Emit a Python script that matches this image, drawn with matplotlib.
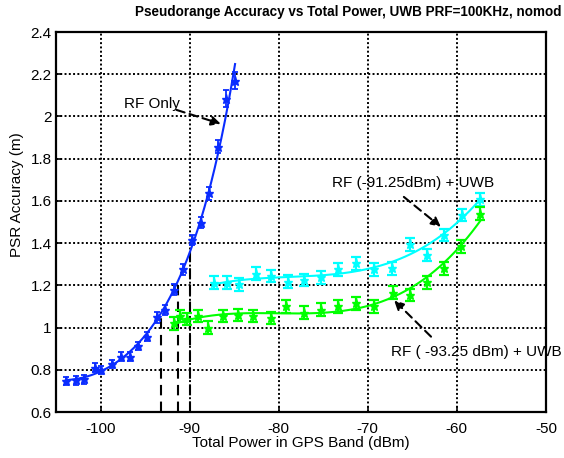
import numpy as np
import matplotlib
matplotlib.use("Agg")
import matplotlib.pyplot as plt

plt.rcParams['font.family'] = ['Liberation Sans', 'DejaVu Sans']

# ---- data ----
rf_x = [-103.9, -102.8, -101.9, -100.6, -100.0, -98.7, -97.75, -96.7, -95.8, -94.75,
        -93.7, -92.8, -91.8, -90.8, -89.7, -88.7, -87.8, -86.8, -85.9, -84.9]
rf_y = [0.747, 0.75, 0.755, 0.81, 0.80, 0.827, 0.862, 0.862, 0.914, 0.957,
        1.049, 1.083, 1.18, 1.276, 1.415, 1.497, 1.636, 1.857, 2.085, 2.17]
rf_err = [0.02, 0.02, 0.02, 0.02, 0.02, 0.02, 0.02, 0.02, 0.02, 0.02,
          0.025, 0.025, 0.025, 0.025, 0.025, 0.025, 0.03, 0.03, 0.04, 0.04]

cy_x = [-87.3, -85.8, -84.5, -82.6, -80.9, -79.0, -77.2, -75.2, -73.3, -71.35,
        -69.3, -67.3, -65.3, -63.4, -61.4, -59.4, -57.4]
cy_y = [1.213, 1.213, 1.205, 1.255, 1.245, 1.217, 1.225, 1.238, 1.276, 1.304,
        1.276, 1.281, 1.395, 1.344, 1.439, 1.534, 1.608]
cy_err = 0.03

gr_x = [-91.8, -91.1, -90.3, -89.1, -87.9, -86.3, -84.6, -82.9, -80.9, -79.2,
        -77.2, -75.3, -73.3, -71.35, -69.3, -67.2, -65.3, -63.3, -61.5, -59.5, -57.4]
gr_y = [1.02, 1.055, 1.04, 1.055, 1.0, 1.055, 1.06, 1.055, 1.045, 1.10,
        1.07, 1.085, 1.10, 1.115, 1.10, 1.165, 1.155, 1.215, 1.28, 1.385, 1.54]
gr_err = 0.03

ref_x = [-93.25, -91.25, -90.0]
ref_top = [1.05, 1.23, 1.40]

xticks = [-100, -90, -80, -70, -60, -50]
yticks = [0.6, 0.8, 1.0, 1.2, 1.4, 1.6, 1.8, 2.0, 2.2, 2.4]

FS = 11

# ---- figure ----
fig = plt.figure(figsize=(5.64, 4.58), dpi=100)
ax = fig.add_axes([0.0993, 0.1004, 0.8687, 0.8296])

def fit_line(x, y, deg):
    x = np.asarray(x); y = np.asarray(y)
    c = np.polyfit(x, y, deg)
    xs = np.linspace(x.min(), x.max(), 200)
    return xs, np.polyval(c, xs)

BLUE = '#0a2cff'
CYAN = '#00ffff'
GREEN = '#00ff00'

# fitted lines
xs, ys = fit_line(rf_x, np.log(rf_y), 3)
ax.plot(xs, np.exp(ys), color=BLUE, lw=1.5, zorder=4)
xs, ys = fit_line(cy_x, cy_y, 3)
ax.plot(xs, ys, color=CYAN, lw=1.5, zorder=4)
xs, ys = fit_line(gr_x, gr_y, 3)
ax.plot(xs, ys, color=GREEN, lw=1.5, zorder=4)

ax.errorbar(rf_x, rf_y, yerr=rf_err, fmt='*', color=BLUE, ms=6.5, capsize=2.5,
            elinewidth=1.3, capthick=1.3, zorder=5)
ax.errorbar(cy_x, cy_y, yerr=cy_err, fmt='*', color=CYAN, ms=6.5, capsize=3.5,
            elinewidth=1.6, capthick=1.6, zorder=5)
ax.errorbar(gr_x, gr_y, yerr=gr_err, fmt='*', color=GREEN, ms=6.5, capsize=3.5,
            elinewidth=1.6, capthick=1.6, zorder=5)

# dashed reference lines
for xv, top in zip(ref_x, ref_top):
    ax.plot([xv, xv], [0.6, top], color='black', lw=1.5, ls=(0, (5, 3)), zorder=3)

ax.set_xlim(-105, -50)
ax.set_ylim(0.6, 2.4)
ax.set_xticks(xticks)
ax.set_yticks(yticks)
ax.set_xticklabels([f"{v:g}" for v in xticks], fontsize=FS)
ax.set_yticklabels([f"{v:g}" for v in yticks], fontsize=FS)
ax.tick_params(direction='in', length=4, width=1.2, pad=3)
ax.tick_params(axis='x', pad=7)
ax.grid(True, color='black', ls=(0, (1, 1.2)), lw=1.4)
for s in ax.spines.values():
    s.set_linewidth(1.6)

ax.set_xlabel("Total Power in GPS Band (dBm)", fontsize=FS)
ax.xaxis.set_label_coords(0.5, -(436 - 412) / 380)
ax.set_ylabel("PSR Accuracy (m)", fontsize=FS)
ax.yaxis.set_label_coords(-(56 - 24) / 490, (412 - 195) / 380)

fig.text(348/564, 1 - 12/458, "Pseudorange Accuracy vs Total Power, UWB PRF=100KHz, nomod",
         ha='center', va='center', fontsize=9.75, fontweight='bold')

arrow = dict(arrowstyle='-|>', color='black', lw=1.5, ls=(0, (4, 2.5)),
             mutation_scale=14, shrinkA=0, shrinkB=0)
ax.annotate("", xy=(-86.5, 1.965), xytext=(-91.46, 2.031), arrowprops=arrow, zorder=6)
ax.text(-94.2, 2.06, "RF Only", ha='center', va='center', fontsize=FS)

ax.annotate("", xy=(-61.8, 1.477), xytext=(-65.95, 1.619), arrowprops=arrow, zorder=6)
ax.text(-64.96, 1.685, "RF (-91.25dBm) + UWB", ha='center', va='center', fontsize=FS)

ax.annotate("", xy=(-67.05, 1.13), xytext=(-62.9, 0.957), arrowprops=arrow, zorder=6)
ax.text(-57.85, 0.884, "RF ( -93.25 dBm) + UWB", ha='center', va='center', fontsize=FS,
        clip_on=False)

fig.savefig("out.png", dpi=100)
